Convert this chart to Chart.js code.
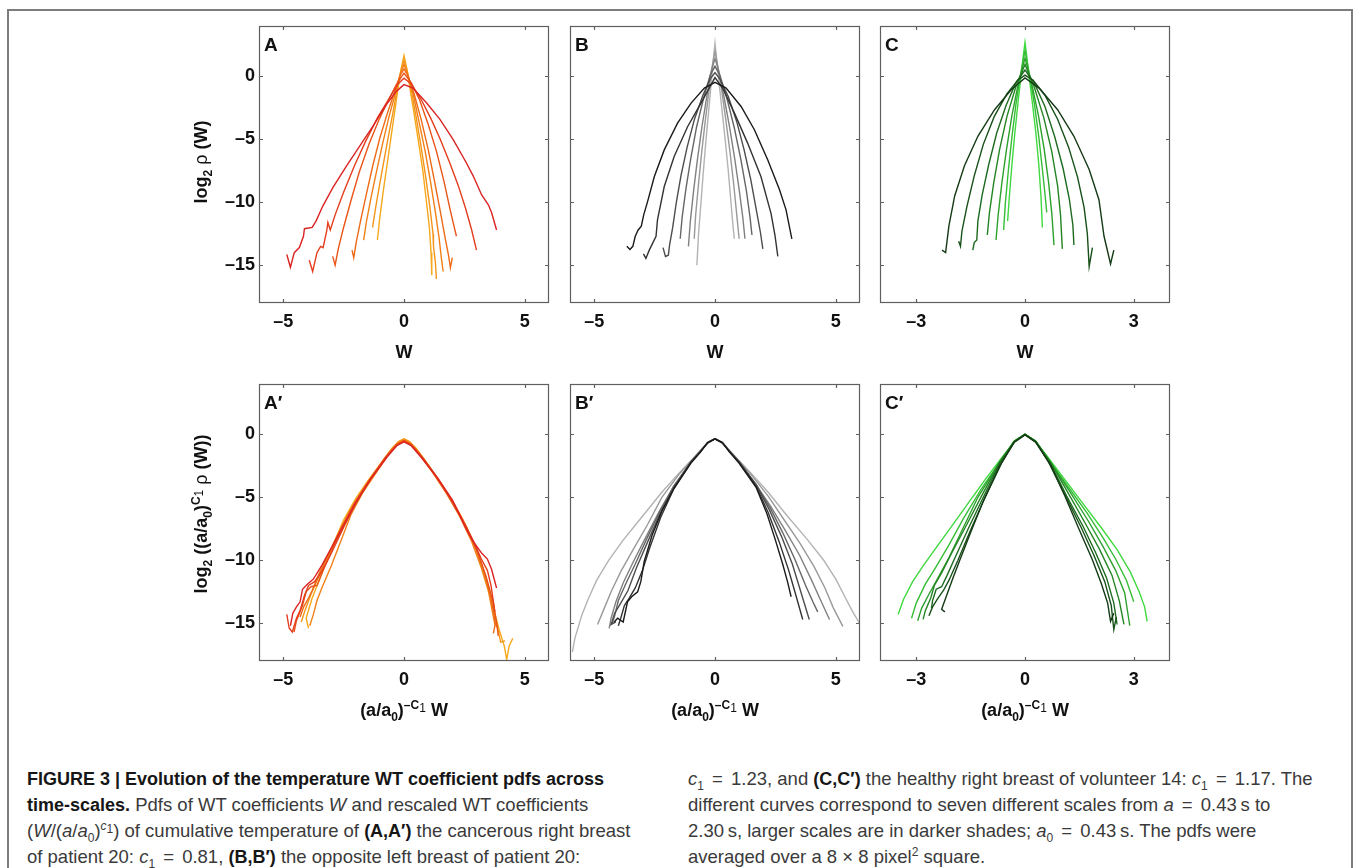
<!DOCTYPE html>
<html>
<head>
<meta charset="utf-8">
<script src="https://cdn.jsdelivr.net/npm/chart.js@4.4.1/dist/chart.umd.min.js"></script>
<style>
body{margin:0;background:#fff;width:1356px;height:868px;overflow:hidden;position:relative;font-family:"Liberation Sans",Arial,sans-serif}
#frame{position:absolute;left:7px;top:9px;width:1346px;height:900px;border:2px solid #7d7d7d;box-sizing:border-box}
canvas{position:absolute}
.t{position:absolute;font-weight:bold;font-size:18px;color:#111;white-space:nowrap;line-height:18px}
.t sub,.t sup{font-size:12px;line-height:0}
.t .n{font-weight:normal}
.yt{transform:translate(-50%,-50%) rotate(-90deg)}
.xt{transform:translateX(-50%)}
.lbl{position:absolute;font-weight:bold;font-size:19px;color:#111;line-height:19px}
.cap{position:absolute;top:766px;font-family:"Liberation Sans",Arial,sans-serif;font-size:18.5px;line-height:26px;color:#3a3a3a;white-space:nowrap}
.cap b{color:#161616;font-size:18px}
.cap sub,.cap sup{font-size:12px;line-height:0}
.cap .eq{margin:0 3px}
</style>
</head>
<body>
<div id="frame"></div>

<script>
// tick values and axis ranges
const ticksWide = [-5, 0, 5];
const ticksNarrow = [-3, 0, 3];
const ticksY = [-15, -10, -5, 0];
const rangeWide = [-6, 6];
const rangeNarrow = [-4, 4];
const rangeY = [-18, 4];

// seven scales, smallest (lightest) first; [W, log2 rho]
const curvesA = [
  [[-1.1,-13.0],[-1.0,-11.2],[-0.85,-9.0],[-0.7,-7.0],[-0.55,-5.0],[-0.4,-3.0],[-0.25,-1.0],[-0.12,0.6],[0,1.65],[0.12,0.6],[0.25,-1.0],[0.42,-3.0],[0.6,-5.2],[0.78,-7.5],[0.92,-9.8],[1.05,-12.0],[1.12,-14.0],[1.15,-15.8]],
  [[-1.3,-12.0],[-1.18,-10.5],[-1.0,-8.5],[-0.82,-6.6],[-0.65,-4.8],[-0.45,-2.8],[-0.28,-1.0],[-0.13,0.4],[0,1.3],[0.13,0.4],[0.3,-1.1],[0.5,-3.2],[0.7,-5.5],[0.9,-8.0],[1.08,-10.5],[1.2,-12.5],[1.22,-13.5],[1.3,-14.8],[1.34,-16.1]],
  [[-1.67,-13.0],[-1.55,-11.5],[-1.35,-9.5],[-1.12,-7.4],[-0.88,-5.3],[-0.62,-3.2],[-0.35,-1.3],[-0.15,0.2],[0,0.95],[0.15,0.2],[0.38,-1.4],[0.62,-3.6],[0.88,-6.0],[1.1,-8.4],[1.3,-10.8],[1.45,-12.8],[1.55,-14.5],[1.62,-15.5]],
  [[-2.15,-13.8],[-2.08,-14.4],[-1.98,-13.2],[-1.8,-11.5],[-1.55,-9.3],[-1.28,-7.0],[-1.0,-4.9],[-0.7,-3.0],[-0.4,-1.3],[-0.18,0.0],[0,0.6],[0.18,0.0],[0.42,-1.4],[0.72,-3.5],[1.0,-5.8],[1.25,-8.2],[1.5,-10.7],[1.7,-12.8],[1.85,-14.3],[1.92,-15.2],[2.0,-14.4]],
  [[-2.95,-14.3],[-2.85,-15.0],[-2.72,-13.7],[-2.5,-12.0],[-2.2,-9.9],[-1.85,-7.6],[-1.45,-5.4],[-1.05,-3.5],[-0.65,-1.9],[-0.3,-0.6],[0,0.25],[0.3,-0.5],[0.65,-1.9],[1.0,-3.8],[1.35,-6.0],[1.65,-8.3],[1.9,-10.5],[2.08,-12.0],[2.17,-12.7]],
  [[-3.92,-14.6],[-3.78,-15.5],[-3.6,-14.0],[-3.45,-13.5],[-3.35,-13.6],[-3.2,-12.3],[-3.15,-11.6],[-3.05,-12.2],[-2.85,-11.0],[-2.5,-9.2],[-2.05,-7.1],[-1.6,-5.2],[-1.1,-3.3],[-0.6,-1.7],[-0.25,-0.6],[0,-0.15],[0.3,-0.6],[0.7,-1.8],[1.1,-3.3],[1.5,-5.0],[1.9,-6.9],[2.25,-8.7],[2.55,-10.5],[2.8,-12.2],[3.0,-13.8]],
  [[-4.85,-14.15],[-4.7,-15.16],[-4.54,-14.0],[-4.33,-13.6],[-4.16,-12.7],[-4.12,-12.1],[-3.8,-12.0],[-3.64,-11.5],[-3.36,-10.3],[-2.95,-8.86],[-2.39,-7.14],[-1.84,-5.56],[-1.29,-3.97],[-0.73,-2.25],[-0.32,-1.19],[0,-0.66],[0.37,-0.93],[0.93,-2.1],[1.48,-3.4],[2.03,-5.0],[2.59,-6.9],[2.86,-7.9],[3.21,-9.4],[3.49,-10.2],[3.62,-10.8],[3.83,-12.2]]
];

const curvesB = [
  [[-0.75,-15.0],[-0.68,-12.5],[-0.58,-10.0],[-0.48,-7.5],[-0.37,-5.0],[-0.25,-2.5],[-0.13,0.0],[-0.05,1.7],[0,2.65],[0.05,1.7],[0.14,0.0],[0.28,-2.5],[0.42,-5.0],[0.55,-7.5],[0.66,-10.0],[0.75,-12.0],[0.8,-12.9]],
  [[-0.86,-12.9],[-0.8,-11.0],[-0.68,-8.5],[-0.55,-6.0],[-0.4,-3.5],[-0.24,-1.0],[-0.1,1.0],[0,2.0],[0.1,1.0],[0.27,-1.0],[0.45,-3.5],[0.62,-6.0],[0.77,-8.5],[0.9,-11.0],[1.0,-12.9]],
  [[-1.1,-13.5],[-1.02,-11.5],[-0.88,-9.0],[-0.72,-6.5],[-0.54,-4.0],[-0.34,-1.6],[-0.15,0.5],[0,1.4],[0.15,0.5],[0.37,-1.6],[0.6,-4.0],[0.82,-6.6],[1.0,-9.0],[1.15,-11.2],[1.24,-12.9]],
  [[-1.44,-12.9],[-1.36,-11.2],[-1.2,-8.9],[-1.0,-6.5],[-0.76,-4.0],[-0.48,-1.8],[-0.2,0.1],[0,0.8],[0.2,0.1],[0.5,-1.8],[0.8,-4.1],[1.07,-6.6],[1.3,-9.1],[1.45,-11.2],[1.53,-12.6]],
  [[-2.15,-13.6],[-2.05,-14.3],[-1.93,-14.2],[-1.88,-13.4],[-1.75,-12.0],[-1.6,-10.0],[-1.4,-7.8],[-1.15,-5.6],[-0.85,-3.4],[-0.5,-1.5],[-0.2,-0.2],[0,0.3],[0.2,-0.2],[0.55,-1.6],[0.9,-3.6],[1.2,-5.8],[1.48,-8.2],[1.7,-10.5],[1.88,-12.4],[1.98,-13.7]],
  [[-2.96,-14.1],[-2.86,-14.46],[-2.72,-13.8],[-2.44,-12.7],[-2.38,-11.4],[-2.1,-8.75],[-1.69,-6.37],[-1.13,-3.98],[-0.58,-2.12],[-0.23,-0.9],[0,-0.1],[0.32,-0.95],[0.8,-2.9],[1.35,-5.3],[1.9,-7.96],[2.32,-10.9],[2.48,-12.6],[2.6,-14.3]],
  [[-3.65,-13.5],[-3.52,-13.75],[-3.4,-13.5],[-3.3,-12.7],[-3.18,-12.2],[-3.05,-11.9],[-2.95,-11.0],[-2.79,-9.95],[-2.51,-7.96],[-2.1,-5.84],[-1.55,-3.71],[-0.99,-2.12],[-0.44,-0.93],[0,-0.48],[0.46,-0.93],[1.08,-2.39],[1.63,-4.24],[2.18,-6.63],[2.67,-9.0],[2.94,-10.6],[3.18,-12.9]]
];

const curvesC = [
  [[-0.48,-11.5],[-0.43,-9.5],[-0.36,-7.0],[-0.28,-4.5],[-0.19,-2.0],[-0.1,0.3],[-0.04,1.8],[0,2.7],[0.04,1.8],[0.1,0.3],[0.2,-2.0],[0.3,-4.5],[0.38,-7.0],[0.44,-9.5],[0.48,-12.0]],
  [[-0.59,-12.2],[-0.54,-10.0],[-0.46,-7.5],[-0.36,-4.8],[-0.25,-2.2],[-0.12,0.2],[0,2.05],[0.12,0.2],[0.26,-2.2],[0.38,-4.8],[0.48,-7.4],[0.55,-9.3],[0.6,-10.8]],
  [[-0.8,-13.0],[-0.74,-11.0],[-0.64,-8.5],[-0.51,-5.8],[-0.36,-3.1],[-0.18,-0.5],[0,1.45],[0.18,-0.5],[0.37,-3.1],[0.53,-5.8],[0.65,-8.4],[0.74,-10.9],[0.8,-13.4]],
  [[-1.04,-12.6],[-0.98,-10.8],[-0.86,-8.4],[-0.7,-5.8],[-0.5,-3.2],[-0.25,-0.8],[0,0.95],[0.25,-0.8],[0.52,-3.3],[0.74,-6.0],[0.9,-8.7],[0.98,-11.0],[1.03,-13.7]],
  [[-1.44,-13.8],[-1.4,-13.2],[-1.33,-13.0],[-1.3,-11.5],[-1.18,-9.4],[-1.0,-7.0],[-0.78,-4.5],[-0.52,-2.3],[-0.25,-0.5],[0,0.5],[0.25,-0.5],[0.55,-2.4],[0.82,-4.8],[1.05,-7.3],[1.22,-9.7],[1.32,-11.8],[1.35,-13.4]],
  [[-1.83,-13.1],[-1.78,-13.5],[-1.74,-12.3],[-1.6,-10.3],[-1.4,-7.9],[-1.15,-5.4],[-0.85,-3.2],[-0.5,-1.4],[-0.2,-0.3],[0,0.1],[0.22,-0.3],[0.55,-1.5],[0.9,-3.4],[1.2,-5.6],[1.45,-8.0],[1.63,-10.4],[1.72,-12.5],[1.77,-15.1],[1.86,-13.6]],
  [[-2.29,-13.8],[-2.19,-14.0],[-2.1,-11.9],[-1.94,-9.5],[-1.67,-7.1],[-1.3,-4.76],[-0.84,-2.65],[-0.38,-1.06],[0,-0.13],[0.39,-0.93],[0.9,-2.65],[1.35,-4.76],[1.77,-7.4],[2.04,-9.8],[2.18,-12.7],[2.36,-14.9],[2.45,-13.8]]
];

// rescaled pdfs; [(a/a0)^-c1 W, log2((a/a0)^c1 rho)]
const curvesA2 = [
  [[-3.95,-15.4],[-4.05,-14.6],[-3.8,-13.0],[-3.55,-11.8],[-3.2,-10.0],[-2.9,-8.6],[-2.5,-6.8],[-2.0,-5.1],[-1.5,-3.7],[-1.0,-2.4],[-0.5,-1.1],[-0.22,-0.55],[0,-0.35],[0.22,-0.55],[0.5,-1.1],[1.0,-2.4],[1.5,-3.8],[2.0,-5.3],[2.5,-7.0],[3.0,-9.2],[3.4,-11.6],[3.7,-13.8],[3.95,-15.6],[4.15,-16.8],[4.25,-17.9],[4.35,-16.8],[4.5,-16.2]],
  [[-4.25,-14.9],[-4.1,-14.0],[-3.85,-12.7],[-3.5,-11.2],[-3.1,-9.6],[-2.7,-7.9],[-2.3,-6.3],[-1.8,-4.7],[-1.2,-3.0],[-0.6,-1.4],[-0.25,-0.65],[0,-0.4],[0.25,-0.65],[0.6,-1.4],[1.2,-3.0],[1.8,-4.7],[2.3,-6.3],[2.8,-8.2],[3.2,-10.2],[3.5,-12.2],[3.75,-14.3],[3.9,-15.6],[4.0,-16.5],[4.18,-16.4]],
  [[-3.9,-15.2],[-3.75,-14.3],[-3.6,-13.2],[-3.4,-12.2],[-3.0,-10.4],[-2.6,-8.4],[-2.2,-6.4],[-1.7,-4.6],[-1.1,-2.9],[-0.5,-1.2],[-0.22,-0.65],[0,-0.45],[0.22,-0.65],[0.5,-1.2],[1.1,-2.8],[1.7,-4.5],[2.3,-6.5],[2.8,-8.5],[3.2,-10.6],[3.5,-12.5],[3.75,-15.0],[3.85,-15.3]],
  [[-4.3,-14.5],[-4.15,-13.7],[-3.95,-13.0],[-3.8,-12.4],[-3.5,-11.0],[-3.1,-9.4],[-2.6,-7.4],[-2.1,-5.6],[-1.5,-3.8],[-0.8,-1.9],[-0.3,-0.8],[0,-0.5],[0.3,-0.8],[0.8,-1.9],[1.5,-3.8],[2.1,-5.6],[2.6,-7.4],[3.0,-9.2],[3.35,-11.1],[3.6,-13.0],[3.78,-15.0],[3.7,-15.8]],
  [[-4.55,-15.7],[-4.45,-14.8],[-4.2,-13.6],[-4.05,-12.5],[-3.85,-12.1],[-3.6,-12.0],[-3.3,-10.6],[-2.9,-8.9],[-2.4,-6.9],[-1.9,-5.1],[-1.3,-3.3],[-0.7,-1.7],[-0.3,-0.8],[0,-0.5],[0.3,-0.8],[0.7,-1.7],[1.3,-3.3],[1.9,-5.1],[2.5,-7.1],[3.0,-9.1],[3.4,-11.3],[3.7,-13.4],[3.85,-15.2],[3.9,-16.0]],
  [[-4.85,-14.3],[-4.75,-15.4],[-4.62,-15.7],[-4.45,-14.6],[-4.3,-14.0],[-4.12,-12.8],[-3.95,-12.0],[-3.7,-11.7],[-3.4,-10.9],[-3.0,-9.4],[-2.5,-7.4],[-2.0,-5.5],[-1.4,-3.6],[-0.7,-1.7],[-0.3,-0.85],[0,-0.55],[0.3,-0.85],[0.7,-1.7],[1.4,-3.5],[2.0,-5.3],[2.5,-7.1],[2.9,-8.6],[3.2,-9.9],[3.45,-10.8],[3.6,-12.0],[3.76,-14.1]],
  [[-4.7,-15.2],[-4.6,-14.2],[-4.45,-13.7],[-4.3,-13.3],[-4.2,-12.3],[-4.0,-11.9],[-3.75,-11.5],[-3.4,-10.4],[-3.0,-9.0],[-2.5,-7.2],[-2.0,-5.4],[-1.4,-3.6],[-0.7,-1.8],[-0.3,-0.9],[0,-0.6],[0.3,-0.9],[0.7,-1.8],[1.4,-3.5],[2.0,-5.2],[2.6,-7.6],[2.86,-8.5],[3.2,-9.4],[3.45,-9.9],[3.62,-10.7],[3.83,-12.2]]
];

const curvesB2 = [
  [[-5.9,-17.3],[-5.8,-16.2],[-5.5,-14.3],[-5.25,-13.1],[-4.9,-11.6],[-4.4,-10.0],[-3.8,-8.4],[-3.0,-6.5],[-2.2,-4.6],[-1.5,-3.1],[-0.8,-1.7],[-0.35,-0.75],[0,-0.35],[0.35,-0.75],[0.8,-1.7],[1.5,-3.1],[2.2,-4.6],[3.0,-6.5],[3.8,-8.3],[4.5,-10.0],[5.0,-11.5],[5.4,-13.0],[5.7,-14.1],[5.98,-15.0]],
  [[-4.86,-15.1],[-4.6,-13.9],[-4.3,-12.5],[-3.9,-10.9],[-3.4,-9.2],[-2.8,-7.2],[-2.2,-5.0],[-1.5,-3.2],[-0.8,-1.7],[-0.35,-0.75],[0,-0.35],[0.35,-0.75],[0.8,-1.7],[1.5,-3.2],[2.2,-4.9],[2.9,-6.9],[3.5,-8.6],[4.1,-10.5],[4.55,-12.2],[4.9,-13.8],[5.29,-15.25]],
  [[-4.38,-15.4],[-4.3,-14.6],[-4.1,-13.3],[-3.8,-11.8],[-3.4,-10.2],[-2.9,-8.3],[-2.3,-6.1],[-1.7,-4.1],[-1.0,-2.2],[-0.6,-1.35],[-0.3,-0.65],[0,-0.35],[0.3,-0.65],[0.6,-1.35],[1.0,-2.2],[1.7,-4.0],[2.3,-5.7],[2.9,-7.6],[3.5,-9.6],[4.0,-11.6],[4.4,-13.3],[4.74,-14.7]],
  [[-4.25,-15.0],[-4.15,-14.4],[-4.0,-13.2],[-3.7,-11.9],[-3.3,-10.3],[-2.85,-8.4],[-2.3,-6.2],[-1.7,-4.1],[-1.0,-2.2],[-0.6,-1.35],[-0.3,-0.65],[0,-0.35],[0.3,-0.65],[0.6,-1.35],[1.0,-2.2],[1.7,-4.0],[2.3,-5.9],[2.8,-7.8],[3.3,-9.9],[3.75,-12.0],[4.05,-13.3],[4.25,-14.1]],
  [[-4.1,-14.9],[-4.3,-15.1],[-4.15,-14.2],[-3.9,-13.4],[-3.6,-12.4],[-3.25,-10.6],[-2.8,-8.6],[-2.3,-6.4],[-1.7,-4.2],[-1.0,-2.2],[-0.6,-1.35],[-0.3,-0.65],[0,-0.35],[0.3,-0.65],[0.6,-1.35],[1.0,-2.2],[1.7,-4.0],[2.25,-6.0],[2.75,-8.1],[3.2,-10.3],[3.55,-12.5],[3.9,-14.7]],
  [[-4.0,-15.2],[-3.9,-14.6],[-3.75,-13.6],[-3.55,-13.0],[-3.3,-12.2],[-3.0,-10.8],[-2.7,-9.0],[-2.25,-6.6],[-1.7,-4.3],[-1.0,-2.2],[-0.6,-1.35],[-0.3,-0.65],[0,-0.35],[0.3,-0.65],[0.6,-1.35],[1.0,-2.2],[1.7,-4.1],[2.2,-6.2],[2.65,-8.5],[3.05,-10.8],[3.35,-12.8],[3.63,-14.7]],
  [[-4.17,-14.9],[-4.03,-14.6],[-3.8,-14.9],[-3.62,-13.3],[-3.45,-12.9],[-3.2,-12.5],[-3.07,-11.7],[-2.93,-10.1],[-2.6,-8.0],[-2.2,-6.1],[-1.7,-4.3],[-1.0,-2.3],[-0.6,-1.4],[-0.3,-0.65],[0,-0.35],[0.3,-0.65],[0.6,-1.4],[1.0,-2.3],[1.7,-4.2],[2.15,-6.3],[2.5,-8.4],[2.8,-10.3],[3.0,-11.7],[3.15,-12.9]]
];

const curvesC2 = [
  [[-3.5,-14.3],[-3.35,-13.1],[-3.1,-11.7],[-2.8,-10.4],[-2.45,-9.0],[-2.05,-7.4],[-1.6,-5.6],[-1.1,-3.6],[-0.6,-1.7],[-0.25,-0.45],[0,0.0],[0.25,-0.45],[0.6,-1.7],[1.1,-3.6],[1.6,-5.5],[2.1,-7.4],[2.55,-9.2],[2.9,-10.9],[3.15,-12.5],[3.3,-13.7],[3.37,-14.85]],
  [[-3.13,-14.6],[-3.0,-13.4],[-2.75,-11.9],[-2.45,-10.5],[-2.1,-8.8],[-1.7,-6.7],[-1.2,-4.3],[-0.6,-1.8],[-0.28,-0.5],[0,0.0],[0.28,-0.5],[0.6,-1.8],[1.2,-4.2],[1.7,-6.2],[2.15,-8.2],[2.5,-9.9],[2.8,-11.6],[3.0,-13.3]],
  [[-2.96,-14.8],[-2.85,-13.8],[-2.65,-12.7],[-2.4,-11.4],[-2.1,-9.8],[-1.75,-7.7],[-1.3,-5.0],[-0.7,-2.2],[-0.3,-0.55],[0,0.0],[0.3,-0.55],[0.7,-2.2],[1.25,-4.6],[1.75,-6.9],[2.15,-8.9],[2.5,-10.8],[2.75,-12.6],[2.89,-15.2]],
  [[-2.81,-14.7],[-2.75,-14.0],[-2.6,-13.0],[-2.5,-12.0],[-2.3,-11.0],[-2.0,-9.3],[-1.65,-7.4],[-1.2,-4.9],[-0.7,-2.2],[-0.3,-0.55],[0,0.0],[0.3,-0.55],[0.7,-2.2],[1.2,-4.7],[1.65,-7.0],[2.05,-9.1],[2.4,-11.2],[2.6,-13.2],[2.73,-15.1]],
  [[-2.58,-13.8],[-2.55,-13.2],[-2.45,-12.3],[-2.3,-12.1],[-2.15,-11.2],[-1.9,-9.6],[-1.55,-7.4],[-1.15,-5.0],[-0.7,-2.3],[-0.3,-0.6],[0,0.0],[0.3,-0.6],[0.7,-2.3],[1.15,-4.9],[1.6,-7.3],[1.95,-9.4],[2.25,-11.4],[2.45,-13.4],[2.54,-15.1]],
  [[-2.65,-14.4],[-2.55,-13.7],[-2.4,-13.0],[-2.25,-12.4],[-2.1,-11.6],[-1.85,-10.0],[-1.5,-7.6],[-1.1,-5.0],[-0.65,-2.3],[-0.3,-0.6],[0,0.0],[0.3,-0.6],[0.65,-2.2],[1.1,-4.8],[1.55,-7.4],[1.9,-9.6],[2.2,-11.7],[2.38,-13.6],[2.45,-15.5],[2.52,-14.5]],
  [[-2.21,-14.1],[-2.3,-13.9],[-2.15,-12.7],[-2.0,-11.5],[-1.8,-10.0],[-1.5,-7.8],[-1.15,-5.3],[-0.7,-2.5],[-0.3,-0.65],[0,-0.05],[0.3,-0.65],[0.7,-2.4],[1.1,-4.9],[1.5,-7.6],[1.85,-9.9],[2.1,-11.8],[2.28,-13.4],[2.36,-14.85],[2.45,-14.2]]
];

// shades, light (small scale) to dark (large scale)
const shadesRed = ['#f6a81c','#f49519','#f18017','#ed6a16','#e95418','#e43d1d','#dc2323'];
const shadesGrey = ['#b3b3b3','#999999','#808080','#666666','#4d4d4d','#333333','#1a1a1a'];
const shadesGreen = ['#3fd83f','#35bd35','#2ca12c','#248524','#1d6a1f','#175019','#143a15'];

const plotLeft = [259, 570, 880];
const plotTop = [26, 384];
const plotW = 290, plotH = 277;

const frameTicks = {
  id: 'frameTicks',
  afterDraw(chart) {
    const {ctx, chartArea: a, scales: {x, y}} = chart;
    ctx.save();
    ctx.strokeStyle = '#5f5f5f';
    ctx.lineWidth = 1.2;
    ctx.strokeRect(a.left + 0.5, a.top + 0.5, a.width - 1, a.height - 1);
    ctx.beginPath();
    x.ticks.forEach(t => {
      const px = Math.round(x.getPixelForValue(t.value)) + 0.5;
      ctx.moveTo(px, a.bottom); ctx.lineTo(px, a.bottom - 4);
      ctx.moveTo(px, a.top); ctx.lineTo(px, a.top + 4);
    });
    y.ticks.forEach(t => {
      const py = Math.round(y.getPixelForValue(t.value)) + 0.5;
      ctx.moveTo(a.left, py); ctx.lineTo(a.left + 4, py);
      ctx.moveTo(a.right, py); ctx.lineTo(a.right - 4, py);
    });
    ctx.stroke();
    ctx.restore();
  }
};

const tickFont = {family: '"Liberation Sans", Arial, sans-serif', size: 18, weight: 'bold'};
const dash = v => v < 0 ? '\u2013' + Math.abs(v) : '' + v;

function panel(col, row, curves, shades, xr, xt, letter) {
  const left = col === 0 ? 60 : 6, padTop = 6, padRight = 6, bottom = 40;
  const cv = document.createElement('canvas');
  cv.width = left + plotW + padRight;
  cv.height = padTop + plotH + bottom;
  cv.style.left = (plotLeft[col] - left) + 'px';
  cv.style.top = (plotTop[row] - padTop) + 'px';
  document.body.appendChild(cv);

  new Chart(cv.getContext('2d'), {
    type: 'scatter',
    data: {
      datasets: curves.map((c, i) => ({
        data: c.map(p => ({x: p[0], y: p[1]})),
        showLine: true,
        borderColor: shades[i],
        borderWidth: 1.4,
        pointRadius: 0,
        tension: 0
      })).reverse()
    },
    options: {
      responsive: false,
      animation: false,
      events: [],
      layout: {padding: {top: padTop, right: padRight, left: 0, bottom: 0}},
      plugins: {legend: {display: false}, tooltip: {enabled: false}},
      scales: {
        x: {
          type: 'linear', min: xr[0], max: xr[1],
          afterBuildTicks: s => { s.ticks = xt.map(v => ({value: v})); },
          afterFit: s => { s.height = bottom; s.paddingLeft = 0; s.paddingRight = 0; },
          grid: {display: false, drawTicks: false},
          border: {display: false},
          ticks: {font: tickFont, color: '#111', padding: 8, maxRotation: 0, callback: dash}
        },
        y: {
          type: 'linear', min: rangeY[0], max: rangeY[1],
          afterBuildTicks: s => { s.ticks = ticksY.map(v => ({value: v})); },
          afterFit: s => { s.width = left; s.paddingTop = 0; s.paddingBottom = 0; },
          grid: {display: false, drawTicks: false},
          border: {display: false},
          ticks: {display: col === 0, font: tickFont, color: '#111', padding: 4, callback: dash}
        }
      }
    },
    plugins: [frameTicks]
  });

  const l = document.createElement('div');
  l.className = 'lbl';
  l.innerHTML = letter;
  l.style.left = (plotLeft[col] + 5) + 'px';
  l.style.top = (plotTop[row] + 9) + 'px';
  document.body.appendChild(l);
}

panel(0, 0, curvesA, shadesRed, rangeWide, ticksWide, 'A');
panel(1, 0, curvesB, shadesGrey, rangeWide, ticksWide, 'B');
panel(2, 0, curvesC, shadesGreen, rangeNarrow, ticksNarrow, 'C');
panel(0, 1, curvesA2, shadesRed, rangeWide, ticksWide, 'A\u2032');
panel(1, 1, curvesB2, shadesGrey, rangeWide, ticksWide, 'B\u2032');
panel(2, 1, curvesC2, shadesGreen, rangeNarrow, ticksNarrow, 'C\u2032');

// axis titles
function title(cls, x, y, html) {
  const d = document.createElement('div');
  d.className = 't ' + cls;
  d.style.left = x + 'px';
  d.style.top = y + 'px';
  d.innerHTML = html;
  document.body.appendChild(d);
}
plotLeft.forEach(pl => {
  const cx = pl + plotW / 2;
  title('xt', cx, 343, 'W');
  title('xt', cx, 701, '(a/a<sub>0</sub>)<sup>\u2013C<sub class="n">1</sub></sup> W');
});
title('yt', 201, 162, 'log<sub>2</sub> <span class="n">\u03c1</span> (W)');
title('yt', 201, 514, 'log<sub>2</sub> ((a/a<sub>0</sub>)<sup>C<sub class="n">1</sub></sup> <span class="n">\u03c1</span> (W))');
</script>

<div class="cap" style="left:27px">
<b>FIGURE 3 | Evolution of the temperature WT coefficient pdfs across</b><br>
<b>time-scales.</b> Pdfs of WT coefficients <i>W</i> and rescaled WT coefficients<br>
(<i>W</i>/(<i>a</i>/<i>a</i><sub>0</sub>)<sup><i>c</i><sub>1</sub></sup>) of cumulative temperature of <b>(A,A&#8242;)</b> the cancerous right breast<br>
of patient 20: <i>c</i><sub>1</sub> <span class="eq">=</span> 0.81, <b>(B,B&#8242;)</b> the opposite left breast of patient 20:
</div>
<div class="cap" style="left:688px">
<i>c</i><sub>1</sub> <span class="eq">=</span> 1.23, and <b>(C,C&#8242;)</b> the healthy right breast of volunteer 14: <i>c</i><sub>1</sub> <span class="eq">=</span> 1.17. The<br>
different curves correspond to seven different scales from <i>a</i> <span class="eq">=</span> 0.43&#8201;s to<br>
2.30&#8201;s, larger scales are in darker shades; <i>a</i><sub>0</sub> <span class="eq">=</span> 0.43&#8201;s. The pdfs were<br>
averaged over a 8 &times; 8 pixel<sup>2</sup> square.
</div>
</body>
</html>
